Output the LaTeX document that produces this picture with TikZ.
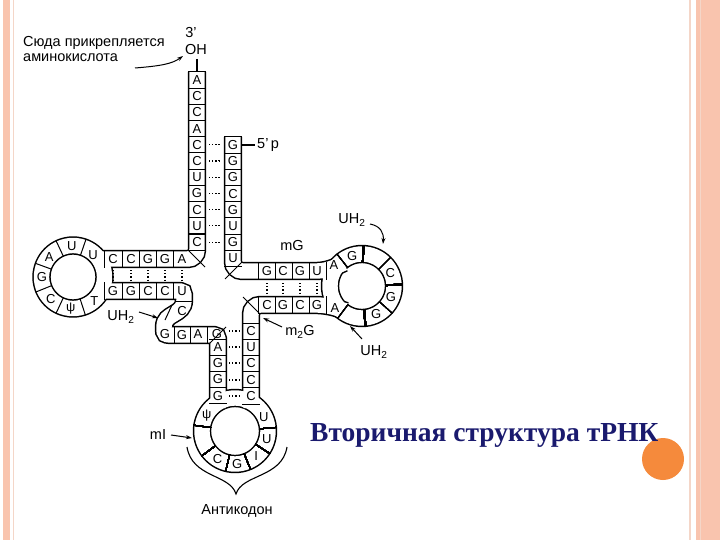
\documentclass[tikz,border=0pt]{standalone}
\usepackage{fontspec}
\setmainfont{Liberation Sans}
\newfontfamily\titlef{Liberation Serif}
\usetikzlibrary{arrows.meta}
\definecolor{salmon}{HTML}{F9C4AE}
\definecolor{salmonl}{HTML}{F4D6C8}
\definecolor{orng}{HTML}{F58A3C}
\definecolor{navy}{HTML}{1A1A6E}
\newcommand\bands[1]{%
 \draw[#1,rounded corners=9pt] (197,72)--(197,259)--(98,259);
 \draw[#1,rounded corners=9pt] (233,137)--(233,271)--(326,271)--(344,263);
 \draw[#1,rounded corners=9pt] (346,311)--(326,305)--(251,305)--(251,408);
 \draw[#1] (98,291)--(176,291) .. controls (184,291) .. (184,300) .. controls (184,316) and (164,312) .. (164,327) .. controls (164,335) .. (176,335) -- (209,335) .. controls (218,335) .. (218,344) -- (218,408);
 \draw[#1] (73,277) circle[radius=31.5];
 \draw[#1] (362,286) circle[radius=32];
 \draw[#1] (235,431) circle[radius=33];
}
\newcommand\rdiv[5][]{\draw[divline,#1] ({#2+(#4-8.8)*cos(#5)},{#3-(#4-8.8)*sin(#5)}) -- ({#2+(#4+8.8)*cos(#5)},{#3-(#4+8.8)*sin(#5)});}
\newcommand\rlet[5]{\node[nuc] at ({#1+#3*cos(#4)},{#2-#3*sin(#4)}) {#5};}
\begin{document}
\begin{tikzpicture}[x=1pt,y=-1pt,
 bandk/.style={line width=18.4pt,draw=black},
 bandw/.style={line width=15.4pt,draw=white},
 divline/.style={line width=1pt},
 nuc/.style={font=\fontsize{13}{13}\selectfont,inner sep=0pt},
 lbl/.style={font=\fontsize{14.5}{15}\selectfont,inner sep=0pt,align=left},
 pairdots/.style={line width=1.2pt,dash pattern=on 1.2pt off 2pt},
 arr/.style={-{Stealth[length=6pt,width=4pt]},line width=1pt}]
\useasboundingbox (0,0) rectangle (720,540);
\fill[white] (0,0) rectangle (720,540);
% page decorations
\fill[salmon] (3,0) rectangle (10,540);
\draw[salmonl,line width=1pt] (13,0)--(13,540);
\draw[salmonl,line width=1.5pt] (690,0)--(690,540);
\fill[salmon] (696,0) rectangle (720,540);
\draw[salmonl,line width=1pt] (700,0)--(700,540);
\fill[orng] (663,459) circle[radius=21];
% bands
\bands{bandk}
\bands{bandw}
% top caps
\draw[divline] (188,72)--(206,72);
\draw[divline] (224,137)--(242,137);
% column dividers
\foreach \k in {1,...,11} \draw[divline] (188,{72+16.2*\k})--(206,{72+16.2*\k});
\foreach \k in {1,...,8} \draw[divline] (224,{137+16.2*\k})--(242,{137+16.2*\k});
\foreach \k in {0,...,4} \draw[divline] (209,{339+16.2*\k})--(227,{339+16.2*\k});
\foreach \k in {0,...,5} \draw[divline] (242,{323+16.2*\k})--(260,{323+16.2*\k});
% row dividers
\foreach \x in {104,122,139,156,173} {\draw[divline] (\x,250)--(\x,268); \draw[divline] (\x,282)--(\x,300);}
\foreach \x in {258,275,292,309,326} {\draw[divline] (\x,262)--(\x,280); \draw[divline] (\x,296)--(\x,314);}
% corner dividers
\draw[divline] (188,250)--(205,267);
\draw[divline] (242,262)--(225,279);
\draw[divline] (260,314)--(243,297);
\draw[divline] (209,344)--(226,327);
\draw[divline] (175,301)--(193,301);
\draw[divline] (172,305)--(165,320);
\draw[divline] (174,326)--(174,344);
\draw[divline] (190,326)--(190,344);
\draw[divline] (207,326)--(207,344);
% ring dividers
\foreach \a in {115,71,160,202,245,288} \rdiv{73}{277}{31.5}{\a}
\foreach \a in {128,45,-42,-127} \rdiv{362}{286}{32}{\a}
\foreach \a in {88,2,-85} \rdiv[line width=1.8pt]{362}{286}{32}{\a}
\foreach \a in {172,217,257,292,327,5} \rdiv{235}{431}{33}{\a}
% pair dots
\foreach \k in {4,...,10} \draw[pairdots] (209,{80.1+16.2*\k})--(221,{80.1+16.2*\k});
\foreach \y in {331,347,363,380,396} \draw[pairdots] (229,\y)--(240,\y);
\foreach \x in {113,131,148,165,182} \draw[pairdots] (\x,270)--(\x,281);
\foreach \x in {267,283,300,317} \draw[pairdots] (\x,283)--(\x,295);
% letters: acceptor
\foreach \l [count=\i from 0] in {A,C,C,A,C,C,U,G,C,U,C} \node[nuc] at (197,{80.1+16.2*\i}) {\l};
\foreach \l [count=\i from 0] in {G,G,G,C,G,U,G,U} \node[nuc] at (233,{145.1+16.2*\i}) {\l};
% D arm
\foreach \l/\x in {C/113,C/131,G/148,G/165,A/182} \node[nuc] at (\x,259) {\l};
\foreach \l/\x in {G/113,G/131,C/148,C/165,U/182} \node[nuc] at (\x,291) {\l};
\rlet{73}{277}{31}{140}{A}
\rlet{73}{277}{31}{92}{U}
\rlet{73}{277}{30}{48}{U}
\rlet{73}{277}{31}{180}{G}
\rlet{73}{277}{31}{224}{C}
\rlet{73}{277}{32}{266}{ψ}
\rlet{73}{277}{32}{312}{T}
% variable
\node[nuc] at (182,311) {C};
\node[nuc] at (165,334) {G};
\node[nuc] at (182,335) {G};
\node[nuc] at (198,334) {A};
\node[nuc] at (217,334) {G};
% T arm
\foreach \l/\x in {G/267,C/283,G/300,U/317} {\node[nuc] at (\x,271) {\l};}
\foreach \l/\x in {C/267,G/283,C/300,G/317} {\node[nuc] at (\x,305) {\l};}
\node[nuc] at (334,265) {A};
\node[nuc] at (335,308) {A};
\rlet{362}{286}{32}{108}{G}
\rlet{362}{286}{31}{24}{C}
\rlet{362}{286}{31}{-21}{G}
\rlet{362}{286}{31}{-63}{G}
% anticodon arm
\foreach \l [count=\i from 1] in {A,G,G,G} \node[nuc] at (218,{339+8.1+16.2*(\i-1)}) {\l};
\foreach \l [count=\i from 0] in {C,U,C,C,C} \node[nuc] at (251,{331.1+16.2*\i}) {\l};
\rlet{235}{431}{32}{152}{ψ}
\rlet{235}{431}{33}{238}{C}
\rlet{235}{431}{33}{274}{G}
\rlet{235}{431}{33}{310}{I}
\rlet{235}{431}{33}{345}{U}
\rlet{235}{431}{32}{26}{U}
% labels
\node[lbl,anchor=west] (att) at (23,43) {Сюда прикрепляется};
\node[lbl,anchor=west] (amk) at (23,58) {аминокислота};
\node[lbl] (three) at (191,33) {3'};
\node[lbl] (oh) at (196,50) {OH};
\draw[line width=1.3pt] (197,59)--(197,72);
\draw[arr] (135,68) .. controls (160,66) and (172,64) .. (183,56);
\draw[line width=1.2pt] (242,145)--(255,145);
\node[lbl,anchor=west] (fivep) at (257,145) {5'\,p};
\node[lbl] (mg) at (292,246) {mG};
\node[lbl] (uh1) at (352,220) {UH\textsubscript{2}};
\draw[arr] (370,224) .. controls (380,226) and (384,232) .. (383,244);
\node[lbl] (uh2) at (374,352) {UH\textsubscript{2}};
\draw[arr] (362,339)--(350,326);
\node[lbl] (m2g) at (300,332) {m\textsubscript{2}G};
\draw[arr] (282,327)--(263,318);
\node[lbl] (uh3) at (121,317) {UH\textsubscript{2}};
\draw[arr] (139,312)--(158,318);
\node[lbl] (mi) at (158,435) {mI};
\draw[arr] (171,435)--(192,438);
\draw[line width=1.1pt] (187,447) .. controls (192,478) and (230,474) .. (236,494) .. controls (242,474) and (282,478) .. (287,447);
\node[lbl] (anti) at (237,511) {Антикодон};
\node[anchor=base west,inner sep=0pt,text=navy,font=\titlef\bfseries\fontsize{27.5}{28}\selectfont] (title) at (310,441) {Вторичная структура тРНК};
\end{tikzpicture}
\end{document}
